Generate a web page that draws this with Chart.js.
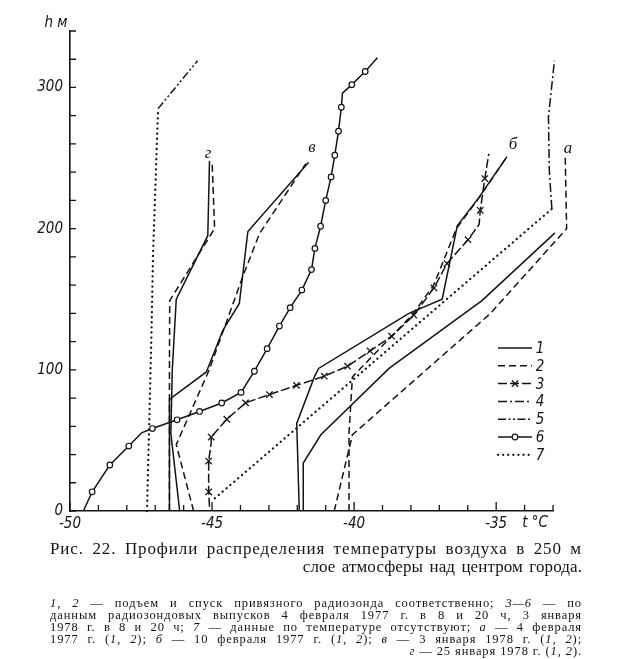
<!DOCTYPE html>
<html>
<head>
<meta charset="utf-8">
<script src="https://cdn.jsdelivr.net/npm/chart.js@4/dist/chart.umd.min.js"></script>
<style>
  body { margin: 0; background: #fff; }
  #wrap { position: relative; width: 630px; height: 659px; background: #fff; overflow: hidden; }
  #c { position: absolute; left: 0; top: 0; }
  .t { position: absolute; color: #141414; white-space: nowrap; transform: translate(-50%, -50%); }
  .it { font-family: 'Liberation Sans Narrow', 'DejaVu Sans Condensed', 'Liberation Sans', sans-serif; font-style: italic; font-size: 15px; }
  .lt { font-family: 'Liberation Serif', 'DejaVu Serif', serif; font-style: italic; font-size: 17px; }
  .cap { position: absolute; left: 50px; width: 532px; color: #141414; font-family: 'Liberation Serif', 'DejaVu Serif', serif; white-space: nowrap; }
  .cap1 { font-size: 17px; line-height: 18px; text-align: justify; text-align-last: justify; letter-spacing: 0.9px; }
  .cap2 { letter-spacing: 0.1px; word-spacing: 2px; }
  .note { font-size: 12.5px; line-height: 12px; text-align: justify; text-align-last: justify; letter-spacing: 0.9px; }
  .right { text-align: right; text-align-last: right; }
</style>
</head>
<body>
<div id="wrap">
  <canvas id="c" width="630" height="659"></canvas>

  <span class="t it" style="left:56px;top:22px">h м</span>
  <span class="t it" style="left:535px;top:522px">t °C</span>

  <span class="t lt" style="left:568px;top:148px">а</span>
  <span class="t lt" style="left:513px;top:144px">б</span>
  <span class="t lt" style="left:312px;top:147px">в</span>
  <span class="t lt" style="left:208px;top:153px">г</span>

  <div id="legendNums"></div>

  <div class="cap cap1" style="top:540px">Рис. 22. Профили распределения температуры воздуха в 250 м</div>
  <div class="cap cap1 cap2 right" style="top:558px">слое атмосферы над центром города.</div>

  <div class="cap note" style="top:597px"><i>1, 2</i> — подъем и спуск привязного радиозонда соответственно; <i>3—6</i> — по</div>
  <div class="cap note" style="top:609px">данным радиозондовых выпусков 4 февраля 1977 г. в 8 и 20 ч, 3 января</div>
  <div class="cap note" style="top:621px">1978 г. в 8 и 20 ч; <i>7</i> — данные по температуре отсутствуют; <i>а</i> — 4 февраля</div>
  <div class="cap note" style="top:633px">1977 г. (<i>1, 2</i>); <i>б</i> — 10 февраля 1977 г. (<i>1, 2</i>); <i>в</i> — 3 января 1978 г. (<i>1, 2</i>);</div>
  <div class="cap note right" style="top:645px"><i>г</i> — 25 января 1978 г. (<i>1, 2</i>).</div>
</div>

<script>
// axes
const tempMin = -50;
const tempMax = -33;
const heightMax = 340;

// а — 4 February 1977, rise (1) and descent (2)
const aRiseT = [-41.79, -41.79, -41.17, -38.77, -35.5, -32.93, -32.57];
const aRiseH = [0, 34, 54, 101, 149, 197, 251];
const aDownT = [-40.7, -40.06, -35.2, -32.52, -32.57];
const aDownH = [0, 54, 140, 200, 251];

// б — 10 February 1977
const bRiseT = [-41.93, -42.02, -41.4, -41.25, -38.07, -36.9, -36.37, -35.61, -34.62];
const bRiseH = [0, 62, 95, 101, 140, 150, 202, 222, 251];
const bDownT = [-40.18, -40.18, -40.06, -37.95, -37.2, -36.4, -35.6, -34.62];
const bDownH = [0, 55, 95, 139, 160, 200, 222, 251];

// в — 3 January 1978
const vRiseT = [-46.5, -46.5, -45.2, -44.62, -44.04, -43.74, -41.6];
const vRiseH = [0, 79, 98.5, 128, 147, 198, 247];
const vDownT = [-45.65, -46.26, -45.1, -43.92, -43.33, -41.7];
const vDownH = [0, 47, 100, 166, 196.5, 246];

// г — 25 January 1978
const gRiseT = [-46.14, -46.45, -46.4, -46.26, -45.15, -45.09];
const gRiseH = [0, 55, 100, 150, 195, 248];
const gDownT = [-46.5, -46.5, -46.49, -44.91, -45.0];
const gDownH = [0, 100, 149, 200, 248];

// radiosonde releases 3-6
const s3T = [-45.09, -45.12, -45.12, -45.03, -45.03, -44.48, -43.82, -42.98, -42.03, -41.05, -40.23,
  -39.44, -38.68, -37.9, -37.19, -36.73, -35.99, -35.6, -35.56, -35.4, -35.26];
const s3H = [3, 13.6, 35.4, 48.3, 52.4, 65, 76.6, 82.5, 89, 95.5, 102.6,
  113.4, 123.8, 138.7, 158, 175.3, 192.2, 203, 213, 235.5, 253];
const s4T = [-33.04, -33.13, -33.16, -32.95];
const s4H = [214, 241, 279, 319];
const s5T = [-46.9, -45.51];
const s5H = [285, 319];
const s6T = [-49.53, -49.22, -48.6, -47.93, -47.48, -47.1, -46.23, -45.44, -44.66, -43.98, -43.51,
  -43.06, -42.63, -42.25, -41.84, -41.5, -41.38, -41.18, -41.0, -40.81, -40.68, -40.55, -40.45,
  -40.41, -40.08, -39.61, -39.18];
const s6H = [0, 13.6, 32.6, 46, 55.4, 58.4, 64.6, 70.5, 76.5, 84, 99,
  115, 131, 144, 156.5, 171, 186, 201.7, 220, 236.6, 252, 269, 286,
  296, 302, 311.3, 321];

// 7 — no temperature data (links under curves 4 and 5)
const gap4T = [-44.9, -33.04];
const gap4H = [9, 214];
const gap5T = [-47.29, -47.13, -47.08, -46.9];
const gap5H = [0, 128, 180, 285];

const legendLabels = ['1', '2', '3', '4', '5', '6', '7'];

const ink = '#141414';
const styles = {
  solid: { borderDash: [] },
  dashed: { borderDash: [7, 4] },
  crossed: { borderDash: [9, 3], pointStyle: 'crossRot', pointRadius: 4.5, pointBorderWidth: 1.3 },
  dashDot: { borderDash: [9, 3, 2, 3] },
  dashDotDot: { borderDash: [8, 2.5, 2, 2.5, 2, 2.5] },
  circled: { borderDash: [], pointStyle: 'circle', pointRadius: 2.8, pointBorderWidth: 1.2, pointBackgroundColor: '#fff' },
  dotted: { borderDash: [0.1, 5], borderWidth: 2.3, borderCapStyle: 'round' }
};

function pts(T, H) {
  return T.map((t, i) => ({ x: t, y: H[i] }));
}

function curve(T, H, style, extra) {
  return Object.assign({
    data: pts(T, H),
    showLine: true,
    borderColor: ink,
    pointBorderColor: ink,
    borderWidth: 1.5,
    pointRadius: 0,
    clip: false
  }, styles[style], extra || {});
}

function skipMarks(list, r) {
  return ctx => (list.includes(ctx.dataIndex) ? 0 : r);
}

const datasets = [
  curve(aRiseT, aRiseH, 'solid'),
  curve(aDownT, aDownH, 'dashed'),
  curve(bRiseT, bRiseH, 'solid'),
  curve(bDownT, bDownH, 'dashed'),
  curve(vRiseT, vRiseH, 'solid'),
  curve(vDownT, vDownH, 'dashed'),
  curve(gRiseT, gRiseH, 'solid'),
  curve(gDownT, gDownH, 'dashed'),
  curve(s3T, s3H, 'crossed', { pointRadius: skipMarks([0, 3, 17, 20], 4.5) }),
  curve(s4T, s4H, 'dashDot'),
  curve(s5T, s5H, 'dashDotDot'),
  curve(s6T, s6H, 'circled', { pointRadius: skipMarks([0, 4, 23, 26], 2.8) }),
  curve(gap4T, gap4H, 'dotted'),
  curve(gap5T, gap5H, 'dotted')
];

// inward tick marks like the printed figure
const innerTicks = {
  id: 'innerTicks',
  afterDraw(chart) {
    const { ctx, scales: { x, y } } = chart;
    ctx.save();
    ctx.strokeStyle = ink;
    ctx.lineWidth = 1.3;
    ctx.beginPath();
    x.ticks.forEach(t => {
      const px = x.getPixelForValue(t.value);
      const len = t.value % 5 === 0 ? 9 : 6;
      ctx.moveTo(px, y.bottom);
      ctx.lineTo(px, y.bottom - len);
    });
    y.ticks.forEach(t => {
      const py = y.getPixelForValue(t.value);
      ctx.moveTo(x.left, py);
      ctx.lineTo(x.left + 6, py);
    });
    ctx.stroke();
    ctx.restore();
  }
};

// legend samples drawn on the right, numbers as text beside them
const legendRows = ['solid', 'dashed', 'crossed', 'dashDot', 'dashDotDot', 'circled', 'dotted'];
const legendSamples = {
  id: 'legendSamples',
  afterDraw(chart) {
    const { ctx } = chart;
    const x0 = 498, x1 = 532, top = 348, step = 17.8;
    ctx.save();
    ctx.strokeStyle = ink;
    legendRows.forEach((name, i) => {
      const s = styles[name];
      const yy = top + i * step;
      ctx.lineWidth = s.borderWidth || 1.5;
      ctx.lineCap = s.borderCapStyle || 'butt';
      ctx.setLineDash(s.borderDash || []);
      ctx.beginPath();
      ctx.moveTo(x0, yy);
      ctx.lineTo(x1, yy);
      ctx.stroke();
      ctx.setLineDash([]);
      ctx.lineCap = 'butt';
      if (s.pointStyle) {
        ctx.lineWidth = s.pointBorderWidth;
        ctx.fillStyle = s.pointBackgroundColor || ink;
        Chart.helpers.drawPoint(ctx, {
          pointStyle: s.pointStyle,
          radius: s.pointRadius,
          rotation: 0,
          borderWidth: s.pointBorderWidth
        }, (x0 + x1) / 2, yy);
      }
    });
    ctx.restore();
  }
};

const legendNums = document.getElementById('legendNums');
legendLabels.forEach((lab, i) => {
  const sp = document.createElement('span');
  sp.className = 't it';
  sp.style.left = '540px';
  sp.style.top = (348 + i * 17.8) + 'px';
  sp.textContent = lab;
  legendNums.appendChild(sp);
});

const tickFont = {
  family: "'Liberation Sans Narrow', 'DejaVu Sans Condensed', 'Liberation Sans', sans-serif",
  style: 'italic',
  size: 15
};

new Chart(document.getElementById('c'), {
  type: 'scatter',
  data: { datasets },
  options: {
    responsive: false,
    animation: false,
    events: [],
    layout: { padding: { top: 31, right: 77, left: 0, bottom: 0 } },
    plugins: { legend: { display: false }, tooltip: { enabled: false } },
    scales: {
      x: {
        type: 'linear',
        min: tempMin,
        max: tempMax,
        grid: { display: false, drawTicks: false },
        border: { display: true, color: ink, width: 1.6 },
        afterFit(scale) { scale.height = 148; },
        ticks: {
          stepSize: 1,
          autoSkip: false,
          maxRotation: 0,
          padding: 4,
          color: ink,
          font: tickFont,
          callback: v => (Math.abs(v) % 5 === 0 && v < -34 ? String(v) : '')
        }
      },
      y: {
        min: 0,
        max: heightMax,
        grid: { display: false, drawTicks: false },
        border: { display: true, color: ink, width: 1.6 },
        afterFit(scale) { scale.width = 70; },
        ticks: {
          stepSize: 20,
          autoSkip: false,
          padding: 7,
          color: ink,
          font: tickFont,
          callback: v => (v % 100 === 0 ? String(v) : '')
        }
      }
    }
  },
  plugins: [innerTicks, legendSamples]
});
</script>
</body>
</html>
